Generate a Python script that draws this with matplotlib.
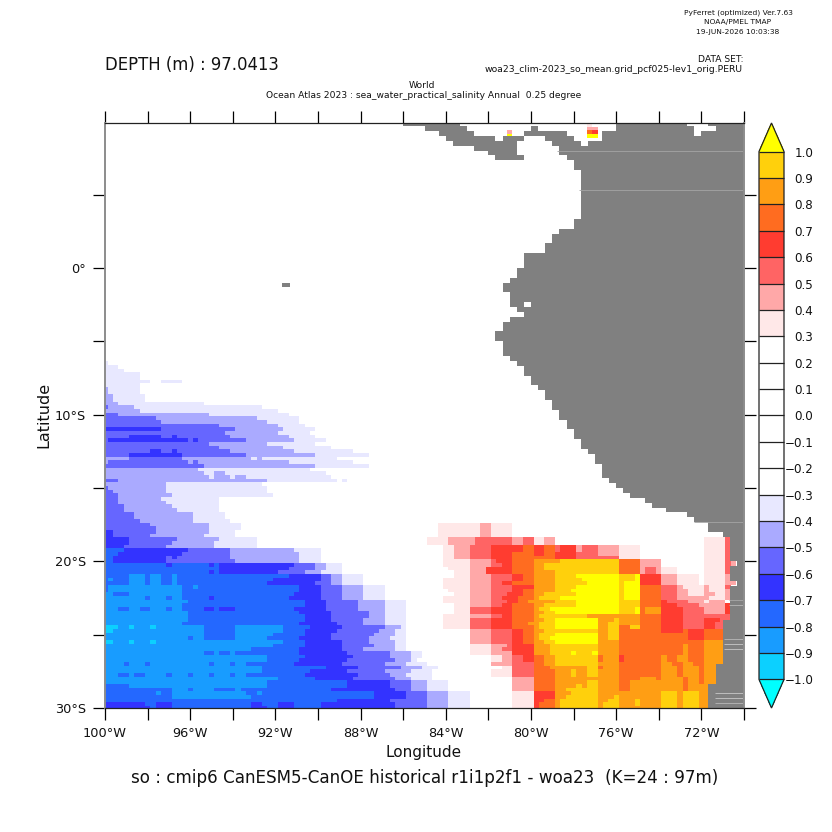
import numpy as np
import matplotlib
matplotlib.use("Agg")
import matplotlib.pyplot as plt
from matplotlib.colors import ListedColormap, BoundaryNorm

# class letter -> anomaly value (mid-bin of the colour scale)
CLASS_VALUES = {"_": 0.0,
                "a": 0.35, "b": 0.45, "c": 0.55, "d": 0.65, "e": 0.75, "f": 0.85, "g": 0.95, "h": 1.05,
                "A": -0.35, "B": -0.45, "C": -0.55, "D": -0.65, "E": -0.75, "F": -0.85, "G": -0.95, "H": -1.05}

LEVELS = [round(-1.0 + 0.1 * i, 1) for i in range(21)]
COLORS = ["#00FFFF", "#0CD0FF", "#189CFF", "#2468FF", "#3333FF", "#6666FF", "#AAAAFF", "#E8E8FF",
          "#FFFFFF", "#FFFFFF", "#FFFFFF", "#FFFFFF", "#FFFFFF", "#FFFFFF",
          "#FFE8E8", "#FFA8A8", "#FF6464", "#FF3C30", "#FF6C20", "#FF9E14", "#FFD00C", "#FFFF00"]

# rows of the 0.25 degree grid (row 0 = 30S), run-length coded: class + end column
WEST_ROWS = {
    94: "A1", 93: "A3", 92: "A4", 91: "A7", 90: "A7", 89: "A9 _11 A15", 88: "A7", 87: "B1 A7", 86: "B1 A7",
    85: "B2 A8", 84: "B2 A8", 83: "B3 A19", 82: "C1 B6 A30", 81: "B7 A33", 80: "C3 B20 A35",
    79: "C10 B29 A37", 78: "C11 B31 A37", 77: "C22 B33 A38", 76: "D11 C25 B34 A40", 75: "C23 B33 A39",
    74: "C5 D11 C13 D14 C24 B35 A40", 73: "C1 D16 C17 D18 C27 B36 A42", 72: "C20 B31 A40", 71: "C22 B34 A43",
    70: "C9 D11 C13 D14 C24 B36 A47", 69: "C5 D15 C27 B40 A50", 68: "B5 C15 B28 A29 B30 A44",
    67: "B1 C16 B17 C18 B35 A47", 66: "C19 B40 A50", 65: "B18 A39", 64: "B19 A21 B23 A42",
    63: "B20 A21 B24 A25 B27 A43", 62: "C3 B31 A44 _45 A46", 61: "B12 A30", 60: "C1 B12 A31", 59: "C2 B12 A31",
    58: "C3 B13 A32", 57: "C3 B11 A22", 56: "C3 B12 A22", 55: "C4 B13 A22", 54: "C4 B14 A22", 53: "C6 B17 A23",
    52: "C6 B17 A23", 51: "C7 B17 A24", 50: "C9 B20 A26", 49: "C10 B20 A26", 48: "D2 C10 B20 A25",
    47: "D2 C9 B19 A25", 46: "D5 C14 B22 A29", 45: "D5 C13 B21 A29", 44: "D4 C12 B21 A29",
    43: "E4 D16 C24 B36 A41", 42: "E3 D15 C24 B37 A41", 41: "E2 D12 C13 D14 C24 B37 A41", 40: "E2 D12 C25 B37 A41",
    39: "E12 D13 E20 D21 E22 D36 C40 B42 A45", 38: "E22 D35 C40 B42 A45", 37: "E20 D21 E22 D33 C38 B41 A45",
    36: "E5 F8 E9 F11 E13 F14 E35 D41 C43 B45 A49", 35: "E1 F2 E5 F8 E9 F11 E13 F14 E32 D41 C43 B45 A49",
    34: "E5 F8 E9 F11 E13 F14 E31 D40 C43 B45 A49", 33: "E1 F15 E17 F18 E37 D41 C45 B49 A53",
    32: "E1 F15 E37 D41 C45 B49 A53", 31: "F2 E5 F15 E36 D41 C45 B49 A53",
    30: "F8 E9 F12 E13 F15 E20 D21 E35 D41 C45 B49 A53", 29: "F16 E38 D42 C48 B53 A57", 28: "F15 E38 D42 C48 B53 A57",
    27: "F3 E5 F7 E9 F12 E13 F15 E19 D21 E22 D25 E36 D42 C48 B53 A57", 26: "F16 E37 D43 C50 B53 A57",
    25: "F16 E38 D43 C50 B53 A57", 24: "F16 E38 D43 C49 B53 A57", 23: "F15 E37 D44 C49 B53 A57",
    22: "G3 F5 G6 F9 G10 F19 E25 F34 E39 D45 C53 B56 A57", 21: "G2 F19 E25 F34 E38 D44 C52 B55 A57",
    20: "F19 E25 F32 E38 D43 C51 B55 A57", 19: "F16 E17 F19 E25 F31 E37 D43 C50 B54 A57",
    18: "G2 F5 G6 F9 G10 F34 E38 D45 C50 B55 A57", 17: "F32 E38 D45 C51 B55 A57", 16: "F28 E37 D45 C49 B55 A57",
    15: "F19 E21 F22 E24 F25 E37 D46 C54 B58 A60", 14: "F31 E38 D47 C54 B58 A60", 13: "F31 E37 D46 C55 B58 A59",
    12: "F4 E5 F8 E9 F20 E21 F24 E25 F27 E36 D45 C53 B57 A61", 11: "F30 E42 D48 C56 B60 A63",
    10: "F30 E39 D46 C53 B58 A62", 9: "F3 E5 F6 E8 F12 E13 F16 E17 F20 E21 F24 E25 F27 E38 D48 C54 B57 A62",
    8: "F33 E40 D47 C55 B58 A62", 7: "F31 E46 D54 C58 B61 A65", 6: "E5 F31 E46 D54 C58 B61 A65",
    5: "E13 F16 E17 F21 E25 F26 E43 D55 C58 B61 A65", 4: "E10 F11 E13 F27 E29 F30 E51 D57 C61 B65 A69",
    3: "E13 F28 E51 D57 C61 B65 A69", 2: "E44 D54 C61 B65 A69",
    1: "D8 E10 D13 E28 D30 E33 D36 E41 D55 C61 B65 A69", 0: "D9 E10 D13 E28 D31 E33 D36 E41 D55 C61 B65 A69",
}

EAST_ROWS = {
    50: "_63 a71 b73 a77", 49: "_63 a71 b73 a77", 48: "_63 a71 b73 a77", 47: "_63 a71 b73 a77",
    46: "_61 a65 b70 c77 b79 c81 a83 b85 _113 a117 c118", 45: "_61 a65 b70 c77 b79 c81 a83 b85 _113 a117 c118",
    44: "_64 a66 b69 c73 d79 e81 d83 e85 c86 d89 b90 c93 b97 a101 _113 a117 c118",
    43: "_64 a66 b69 c73 d79 e81 d83 e85 c86 d89 b90 c93 b97 a101 _113 a117 c118",
    42: "_64 a66 b69 c73 d77 e81 d83 e85 d89 c93 b97 a101 _113 a117 c118",
    41: "_64 a66 b69 c73 d77 e85 d89 c97 a101 _113 a117 c118",
    40: "_64 a69 b73 c74 d77 e81 f86 g97 e101 b105 _113 a117 c118 b119",
    39: "_64 a69 b73 c75 d77 e81 f83 g97 e101 b105 _113 a117 c118 b119",
    38: "_65 a69 b72 d77 e81 f83 g97 e101 b102 c104 b105 a108 _113 a117 c118",
    37: "_66 a69 b72 d77 e81 f85 g97 e101 b102 c104 b105 a108 _113 a117 c118",
    36: "_66 a69 b73 c77 d79 e81 f85 g89 h97 g100 h101 d105 b108 a112 _113 a117 b119",
    35: "_64 a69 b73 c77 d79 e81 f85 g90 h97 g100 h101 d105 b108 a112 _113 a117 b119",
    34: "_64 a69 b73 c75 d77 e81 f85 g91 h97 g98 h101 d105 b108 a112 _113 a117 b119",
    33: "_64 a69 b73 c77 d81 f85 g89 h97 g98 h101 e105 c108 b109 a113 b114 a117 c118",
    32: "_65 a69 b73 c77 d79 e81 f85 g88 h97 g98 h101 e105 c108 b110 a113 b114 a117 b118",
    31: "_66 a69 b73 c76 d79 e81 f83 g89 h97 g98 h101 e105 c108 b110 a113 b115 a117 b118",
    30: "_64 a69 b73 c75 d78 e81 f82 g86 h97 g98 h101 e105 c108 b114 a117 b118",
    29: "_64 a69 b73 c76 d78 e80 f85 g89 h97 g101 e105 d106 c110 b113 a114 b117",
    28: "_66 a69 b73 c75 d77 e81 f83 g89 h97 g101 e105 d108 c112 b117 d118",
    27: "_66 a69 c73 d77 e81 f82 g84 h97 g100 h101 e102 f105 d109 c113 b117 d118",
    26: "_66 a69 c73 d77 e81 f83 g85 h97 g100 h101 e102 f105 d109 c113 b117 d118",
    25: "_64 a69 b73 c75 d77 e81 f82 g91 f101 e105 d109 c120",
    24: "_64 a69 c73 d77 e81 f83 g85 h93 f96 g97 f101 e105 d109 c113 d116 c120",
    23: "_64 a69 c73 d77 e80 f82 g85 h93 f95 g97 f101 e105 d109 c113 d115 c120",
    22: "_64 a69 c73 d77 e81 f82 g85 h93 f95 g97 e99 g101 e105 d109 c113 d115 c120",
    21: "_69 b73 c77 d79 e81 f83 g93 f95 g97 e105 d109 e110 d113 e120",
    20: "_69 b73 c77 d79 e81 f82 g85 h93 f95 g97 e110 d113 e120",
    19: "_69 b73 c77 d79 e81 f82 g84 h93 f95 g97 e110 d113 e120",
    18: "_69 b73 c77 d79 e81 f83 g85 h93 f97 e113 f120",
    17: "_69 a73 b76 c77 d81 f84 g93 f97 e109 f110 e113 f120",
    16: "_69 a73 b75 c77 d81 f84 g93 f97 e109 f110 e113 f120",
    15: "_69 a73 b77 d81 f84 g88 h89 g92 h93 f97 e109 f110 e113 f120",
    14: "_73 a75 b77 c79 d81 e83 f85 g93 e94 f97 d98 e105 f106 e108 f110 e113 f120",
    13: "_73 a75 b77 c79 d81 e83 f85 g93 e94 f97 d98 e105 f106 e108 f110 e113 f120",
    12: "_73 b77 c81 e83 f85 g93 f97 e105 f107 e109 f111 e113 f120",
    11: "_75 a77 c81 e84 f91 g93 e94 f97 e105 f108 e109 f112 e113 f120",
    10: "_73 a77 c81 e85 f88 g89 f91 g93 f97 e105 f108 e109 f112 e113 f120",
    9: "_73 a77 c81 e85 f88 g89 f91 g93 f97 e105 f108 e109 f112 e113 f120",
    8: "_77 b81 e85 f93 f97 e101 f104 e105 f109 e110 f112 e113 f120",
    7: "_77 b81 e85 f91 g93 f97 e99 f109 e110 f112 e113 f120",
    6: "_77 b81 e85 f89 g90 f91 g93 f97 e99 f109 e110 f120",
    5: "_77 b81 e85 f87 g93 f97 e99 f109 e110 f120",
    4: "_77 a81 d85 f88 g93 f97 f105 g108 f109 g112 f120",
    3: "_77 a81 d85 f87 g93 f96 g97 f105 g108 f109 g112 f120",
    2: "_77 a81 d83 e85 f86 g93 f95 g97 f100 g101 f105 g108 f109 g112 f120",
    1: "_77 a81 d82 e85 f86 g93 f94 g97 f100 g101 f102 f105 g108 f109 g112 f120",
    0: "_77 a81 d82 e85 f86 g93 f94 g97 f105 g108 f109 g112 f120",
}

# isolated cells in the north: (row, column, class)
NORTH_CELLS = [(157, 76, "b"), (156, 76, "h"), (159, 91, "a"), (158, 91, "b"), (158, 92, "b"),
               (157, 91, "e"), (157, 92, "d"), (156, 91, "h"), (156, 92, "h")]

# land mask on a 1/3 degree grid: western land index for rows 0 up to 111
LAND_WEST = [85, 85, 85, 85, 85, 86, 86, 86, 86, 87, 87, 87, 87, 87, 87, 87, 87, 87,
             88, 88, 88, 88, 88, 88, 88, 89, 88, 88, 88, 89, 88, 88, 88, 88, 88, 87, 85, 85,
             83, 82, 79, 77, 76, 74, 73, 72, 71, 70, 70, 70, 69, 69, 68, 67, 67, 66, 66, 65, 65,
             64, 64, 63, 63, 62, 62, 61, 60, 60, 59, 59, 58, 57, 56, 56, 56, 55, 55, 56, 56, 57,
             59, 58, 57, 57, 57, 56, 56, 57, 58, 58, 59, 59, 59, 62, 62, 63, 63, 64, 66, 66,
             67, 67, 67, 67, 67, 67, 67, 67, 67, 67, 66, 66]
# further land pieces (row, first index, stop index)
LAND_PIECES = [(112, 55, 59), (112, 65, 90), (113, 54, 58), (113, 64, 90), (114, 52, 58), (114, 64, 90),
               (115, 49, 58), (115, 63, 67), (115, 68, 90), (116, 48, 55), (116, 56, 59), (116, 62, 66), (116, 70, 90),
               (117, 47, 52), (117, 59, 65), (117, 70, 83), (117, 84, 90), (118, 45, 51), (118, 60, 61),
               (118, 72, 83), (118, 86, 90), (119, 42, 50), (119, 72, 82), (119, 85, 90), (86, 25, 26)]
LAND_HOLES = [(82, 59)]
# faint seams across the land: latitude, western longitude, colour
LAND_SEAMS = [(8.0, -78.76, "#A4A4A4"), (5.33, -77.73, "#A4A4A4"), (-17.33, -72.34, "#A4A4A4"),
              (-22.67, -70.7, "#A8A8A8"), (-23.0, -70.7, "#B8B8B8"),
              (-25.33, -70.94, "#B8B8B8"), (-25.67, -70.94, "#C8C8C8"), (-26.0, -70.94, "#C8C8C8"),
              (-29.0, -71.36, "#C8C8C8"), (-29.33, -71.36, "#C8C8C8"), (-29.67, -71.36, "#B8B8B8")]

LON_TICKS = list(range(-100, -69, 2))
LAT_TICKS = list(range(-30, 6, 5))
LON_LABELS = {-100: "100°W", -96: "96°W", -92: "92°W", -88: "88°W", -84: "84°W", -80: "80°W", -76: "76°W", -72: "72°W"}
LAT_LABELS = {-30: "30°S", -20: "20°S", -10: "10°S", 0: "0°"}

# ---------------------------------------------------------------
values = np.zeros((161, 122))
for table in (WEST_ROWS, EAST_ROWS):
    for r, runs in table.items():
        start = 0
        for run in runs.split():
            stop = int(run[1:])
            if run[0] != "_":
                values[r, start:stop] = CLASS_VALUES[run[0]]
            start = stop
for r, c, k in NORTH_CELLS:
    values[r, c] = CLASS_VALUES[k]

land = np.full((120, 90), np.nan)
for r, west in enumerate(LAND_WEST):
    land[r, west:] = 1
for r, a, b in LAND_PIECES:
    land[r, a:b] = 1
for r, c in LAND_HOLES:
    land[r, c] = np.nan

W = H = 832
fig = plt.figure(figsize=(W / 100, H / 100), dpi=100, facecolor="white")
plt.rcParams["font.family"] = "DejaVu Sans"


def box(x0, y0, x1, y1):
    return [x0 / W, 1 - y1 / H, (x1 - x0) / W, (y1 - y0) / H]


def label(x, y, s, size, ha="center", **kw):
    fig.text(x / W, 1 - y / H, s, fontsize=size, ha=ha, va="center", color="#111111", **kw)


ax = fig.add_axes(box(105, 123, 744, 708))
cmap = ListedColormap(COLORS[1:-1])
cmap.set_under(COLORS[0])
cmap.set_over(COLORS[-1])
norm = BoundaryNorm(LEVELS, cmap.N)

lon_edges = -100.125 + 0.25 * np.arange(values.shape[1] + 1)
lat_edges = -30.125 + 0.25 * np.arange(values.shape[0] + 1)
mesh = ax.pcolormesh(lon_edges, lat_edges, values, cmap=cmap, norm=norm, antialiased=False, linewidth=0)

land_lon = -100 + np.arange(land.shape[1] + 1) / 3
land_lat = -30 + np.arange(land.shape[0] + 1) / 3
ax.pcolormesh(land_lon, land_lat, np.ma.masked_invalid(land), cmap=ListedColormap(["#808080"]),
              vmin=0, vmax=2, antialiased=False, linewidth=0)
for lat, lon, col in LAND_SEAMS:
    ax.plot([lon, -70.04], [lat, lat], color=col, lw=0.6, solid_capstyle="butt")

ax.set_xlim(-100, -70.04)
ax.set_ylim(-30, 9.88)
ax.set_xticks(LON_TICKS)
ax.set_yticks(LAT_TICKS)
ax.set_xticklabels([LON_LABELS.get(t, "") for t in LON_TICKS], fontsize=9.3, color="#111111")
ax.set_yticklabels([LAT_LABELS.get(t, "") for t in LAT_TICKS], fontsize=9.3, color="#111111")
ax.tick_params(axis="both", which="major", direction="out", length=8.6, width=0.9,
               top=True, right=True, bottom=True, left=True, pad=5)
for name, s in ax.spines.items():
    s.set_linewidth(1.4 if name in ("left", "right") else 0.9)
    s.set_color("#8C8C8C" if name in ("left", "right") else "#222222")

cax = fig.add_axes(box(759, 123, 784, 708))
cb = fig.colorbar(mesh, cax=cax, extend="both", extendfrac=28.5 / 527, spacing="uniform",
                  ticks=LEVELS, drawedges=True)
cb.ax.set_yticklabels(["%.1f" % v if v >= 0 else "\u2212%.1f" % abs(v) for v in LEVELS], fontsize=8.6,
                      color="#111111", ha="right")
cb.ax.tick_params(length=0, pad=21)
cb.outline.set_linewidth(0.9)
cb.outline.set_edgecolor("#222222")
cb.dividers.set_color("#222222")
cb.dividers.set_linewidth(0.9)

label(738, 13, "PyFerret (optimized) Ver.7.63", 5.4)
label(738, 22, "NOAA/PMEL TMAP", 5.4)
label(738, 32, "19-JUN-2026 10:03:38", 5.4)
label(105, 65, "DEPTH (m) : 97.0413", 11.9, ha="left")
label(743, 60, "DATA SET:", 6.6, ha="right")
label(743, 69, "woa23_clim-2023_so_mean.grid_pcf025-lev1_orig.PERU", 6.7, ha="right")
label(422, 86, "World", 6.6)
label(424, 96, "Ocean Atlas 2023 : sea_water_practical_salinity Annual  0.25 degree", 6.6)
label(424, 752, "Longitude", 11)
label(44, 415, "Latitude", 11.5, rotation=90)
label(425, 778, "so : cmip6 CanESM5-CanOE historical r1i1p2f1 - woa23  (K=24 : 97m)", 12.1)

fig.savefig("out.png", dpi=100)
